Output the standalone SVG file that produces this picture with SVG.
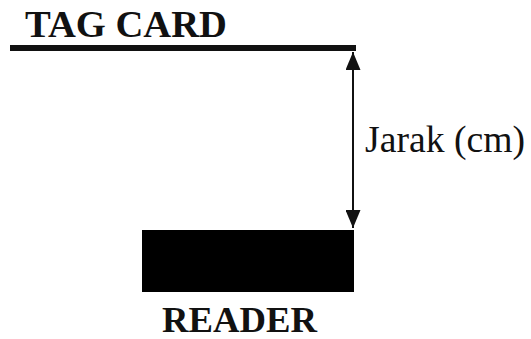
<svg xmlns="http://www.w3.org/2000/svg" width="531" height="339" viewBox="0 0 531 339">
<style>
.lbl{font-family:"Liberation Serif","Times New Roman",serif;fill:#111}
.b{font-weight:bold}
</style>
<defs>
<marker id="ah" viewBox="0 0 18 15" refX="18" refY="7.5" markerWidth="18" markerHeight="15" markerUnits="userSpaceOnUse" orient="auto-start-reverse">
<path d="M0,0 L18,7.5 L0,15 Z" fill="#111"/>
</marker>
</defs>
<rect width="531" height="339" fill="#fff"/>
<g id="tag-card">
<rect x="10" y="45" width="346" height="6" fill="#111"/>
<text class="lbl b" x="25" y="37" font-size="38" textLength="202" lengthAdjust="spacingAndGlyphs">TAG CARD</text>
</g>
<g id="reader">
<rect x="142" y="230" width="212" height="62" fill="#000"/>
<text class="lbl b" x="162" y="332" font-size="35" textLength="155" lengthAdjust="spacingAndGlyphs">READER</text>
</g>
<g id="connectors">
<line x1="353" y1="52" x2="353" y2="228" stroke="#111" stroke-width="2" marker-start="url(#ah)" marker-end="url(#ah)"/>
</g>
<g id="distance-label">
<text class="lbl" x="365" y="152" font-size="37" textLength="160" lengthAdjust="spacingAndGlyphs">Jarak (cm)</text>
</g>
</svg>
